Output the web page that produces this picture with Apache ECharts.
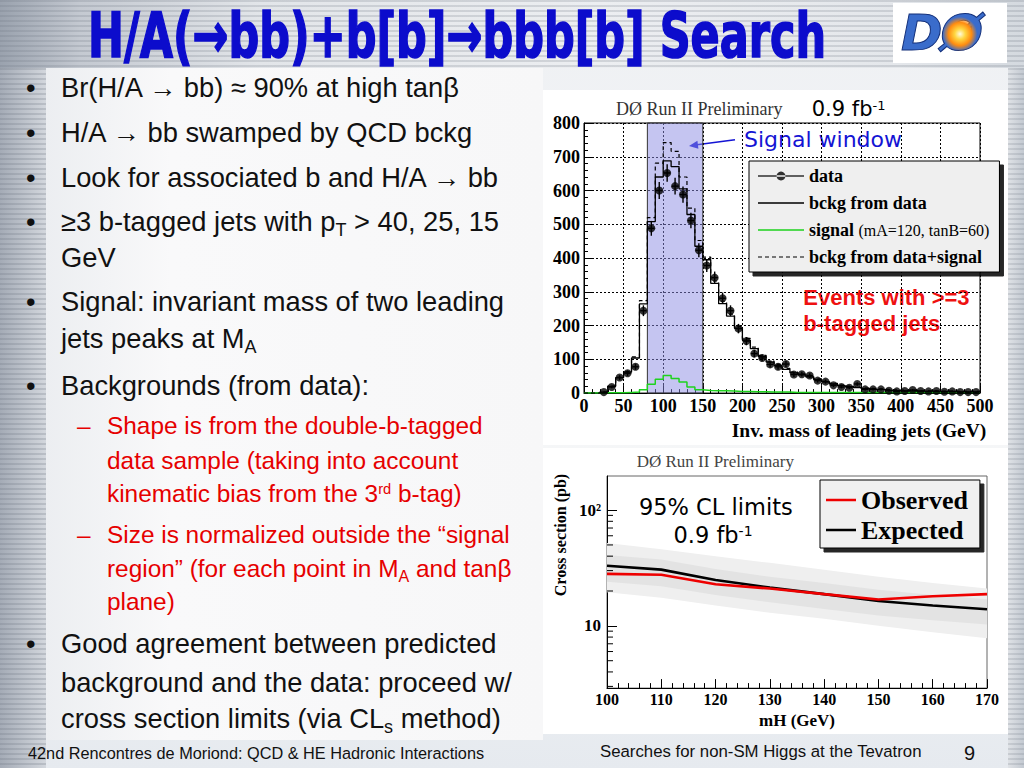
<!DOCTYPE html>
<html><head><meta charset="utf-8">
<script src="https://cdn.jsdelivr.net/npm/echarts@6/dist/echarts.min.js"></script>
<style>
html,body{margin:0;padding:0;}
body{width:1024px;height:768px;overflow:hidden;position:relative;font-family:'Liberation Sans',Arial,sans-serif;color:#111;}
#bg{position:absolute;left:0;top:0;width:1024px;height:768px;background:linear-gradient(180deg,#eef0f3 0,#f6f7f8 55%,#e6eaef 100%);}
#topband{position:absolute;left:0;top:0;width:1024px;height:68px;background:repeating-linear-gradient(180deg,rgba(110,118,130,.22) 0 2px,rgba(255,255,255,0) 2px 5px),linear-gradient(90deg,#9aa2ae 0,#c4c9d1 80px,#e2e5e9 260px,#eceef1 600px,#e4e7eb 900px,#d4d9df 1024px);}
#leftband{position:absolute;left:0;top:68px;width:46px;height:700px;background:repeating-linear-gradient(180deg,rgba(110,118,130,.25) 0 2px,rgba(255,255,255,0) 2px 5px),linear-gradient(90deg,#a4abb6,#d3d7dd);}
#rightband{position:absolute;left:1008px;top:68px;width:16px;height:700px;background:repeating-linear-gradient(180deg,rgba(110,118,130,.2) 0 2px,rgba(255,255,255,0) 2px 5px),linear-gradient(90deg,#dfe2e6,#c3c9d1);}
#panel{position:absolute;left:46px;top:68px;width:497px;height:672px;background:linear-gradient(90deg,#eceef1 0,#f9f9fa 25%,#f7f7f8 100%);}
#title{position:absolute;left:88px;top:4px;font-family:'Liberation Sans Narrow','DejaVu Sans Condensed',sans-serif;font-weight:bold;font-size:63px;line-height:1;color:#0c0ccc;-webkit-text-stroke:1.6px #0c0ccc;white-space:nowrap;transform-origin:0 0;}
#logo{position:absolute;left:893px;top:3px;width:114px;height:60px;background:#fff;overflow:hidden;}
#logo .txt{position:absolute;left:8px;top:2px;font-family:'DejaVu Sans',sans-serif;font-weight:bold;font-style:italic;font-size:50px;line-height:56px;color:#3a6ccb;-webkit-text-stroke:1px #14307a;letter-spacing:-2px;}
#logo .burst{position:absolute;left:50px;top:14px;width:34px;height:34px;border-radius:50%;background:radial-gradient(circle,#fffbe0 0,#ffd640 22%,#ff8c10 48%,rgba(255,120,0,0) 72%);}
.ln{position:absolute;white-space:nowrap;line-height:1;}
.m{font-size:27.3px;left:61px;color:#111;}
.s{font-size:24.4px;left:107px;color:#e60000;}
.b{position:absolute;left:26px;font-size:27.3px;line-height:1;color:#111;}
.d{position:absolute;left:77px;font-size:24.4px;line-height:1;color:#e60000;}
sub{font-size:0.66em;vertical-align:-0.28em;line-height:0;}
sup{font-size:0.6em;vertical-align:0.55em;line-height:0;}
.f{position:absolute;font-size:16.3px;line-height:1;color:#111;white-space:nowrap;}
#c1{position:absolute;left:543px;top:90px;width:465px;height:355px;background:#fff;}
#c2{position:absolute;left:543px;top:448px;width:465px;height:286px;background:#fff;}
</style></head>
<body>
<div id="bg"></div><div id="topband"></div><div id="leftband"></div><div id="rightband"></div><div id="panel"></div>
<div id="title">H/A(→bb)+b[b]→bbb[b] Search</div>
<div id="logo"><div class="txt">DØ</div><div class="burst"></div></div>

<div class="b" style="top:73.6px">•</div><div class="ln m" style="top:73.6px">Br(H/A → bb) ≈ 90% at high tanβ</div>
<div class="b" style="top:118.6px">•</div><div class="ln m" style="top:118.6px">H/A → bb swamped by QCD bckg</div>
<div class="b" style="top:163.6px">•</div><div class="ln m" style="top:163.6px">Look for associated b and H/A → bb</div>
<div class="b" style="top:207.6px">•</div><div class="ln m" style="top:207.6px">≥3 b-tagged jets with p<sub>T</sub> &gt; 40, 25, 15</div>
<div class="ln m" style="top:244.2px">GeV</div>
<div class="b" style="top:287.6px">•</div><div class="ln m" style="top:287.6px">Signal: invariant mass of two leading</div>
<div class="ln m" style="top:325.2px">jets peaks at M<sub>A</sub></div>
<div class="b" style="top:371.9px">•</div><div class="ln m" style="top:371.9px">Backgrounds (from data):</div>
<div class="d" style="top:414.4px">–</div><div class="ln s" style="top:414.4px">Shape is from the double-b-tagged</div>
<div class="ln s" style="top:449.4px">data sample (taking into account</div>
<div class="ln s" style="top:482.1px">kinematic bias from the 3<sup>rd</sup> b-tag)</div>
<div class="d" style="top:522.7px">–</div><div class="ln s" style="top:522.7px">Size is normalized outside the “signal</div>
<div class="ln s" style="top:556.7px">region” (for each point in M<sub>A</sub> and tanβ</div>
<div class="ln s" style="top:590.1px">plane)</div>
<div class="b" style="top:630.2px">•</div><div class="ln m" style="top:630.2px">Good agreement between predicted</div>
<div class="ln m" style="top:668.6px">background and the data: proceed w/</div>
<div class="ln m" style="top:705.2px">cross section limits (via CL<sub>s</sub> method)</div>

<div class="f" style="left:28px;top:744.8px">42nd Rencontres de Moriond: QCD &amp; HE Hadronic Interactions</div>
<div class="f" style="left:600px;top:744.3px;font-size:16.8px">Searches for non-SM Higgs at the Tevatron</div>
<div class="f" style="left:964px;top:743px;font-size:20px">9</div>

<div id="c1"></div>
<div id="c2"></div>

<script>
// ---------- histogram: invariant mass of two leading jets ----------
const massBins = [0,10,20,30,40,50,60,70,80,90,100,110,120,130,140,150,160,170,180,190,200,210,220,230,240,250,260,270,280,290,300,310,320,330,340,350,360,370,380,390,400,410,420,430,440,450,460,470,480,490];
const massMax = 500;
const bkgFromData = [0,0,2,20,46,62,104,264,508,640,688,671,605,529,435,395,325,265,228,192,157,132,108,92,82,70,60,54,48,40,33,27,22,19,16,13,11,10,8,7,6,6,5,5,4,4,4,3,3,3];
const signalMC = [0,0,1,1,1,2,3,10,26,41,52,43,33,18,10,8,7,7,6,5,5,4,4,3,3,3,2,2,2,2,2,2,2,2,2,2,2,2,2,2,2,2,2,2,2,2,2,2,2,2];
const bkgPlusSignal = [0,0,3,21,47,64,107,274,520,681,742,716,640,548,452,403,332,272,234,197,162,136,112,95,85,73,62,56,50,42,35,29,24,21,18,15,13,12,10,9,8,8,7,7,6,6,6,5,5,5];
const dataMass = [25,35,45,55,65,75,85,95,105,115,125,135,145,155,165,175,185,195,205,215,225,235,245,255,265,275,285,295,305,315,325,335,345,355,365,375,385,395,405,415,425,435,445,455,465,475,485,495];
const dataCounts = [3,18,46,59,78,244,488,600,652,613,588,511,423,378,342,281,244,191,154,117,104,85,78,86,55,56,52,37,34,23,18,16,27,11,11,11,7,5,6,9,6,5,6,4,5,3,3,3];
const dataErr = [2,4,7,8,9,16,22,25,26,25,24,23,21,19,18,17,16,14,12,11,10,9,9,9,7,7,7,6,6,5,4,4,5,3,3,3,3,2,2,3,2,2,2,2,2,2,2,2];
const signalWindow = [80,150];

// ---------- cross section limits ----------
const mH = [100,110,120,130,140,150,160,170];
const expectedLimit = [33.1,30.6,24.9,21.4,18.8,16.4,15.0,13.9];
const observedLimit = [28.1,27.6,22.9,21.0,18.8,16.9,18.0,18.8];
const band2Up = [52,46,40,35,30.5,26.5,23.5,21];
const band2Lo = [19.5,17.5,15,13,11.5,10,8.8,7.8];
const band1Up = [41,37.5,31,26.5,23.5,20.5,18.5,17];
const band1Lo = [24,22,18.5,16,14,12.3,11.2,10.3];
const yMinorTicks = [3,4,5,6,7,8,9,20,30,40,50,60,70,80,90];

// fit title width
(function(){
  const t = document.getElementById('title');
  const w = t.getBoundingClientRect().width;
  if (w > 0) t.style.transform = 'scaleX(' + (738 / w) + ')';
})();

const SERIF = "'Liberation Serif','Times New Roman',serif";
const SANS = "'DejaVu Sans',Verdana,sans-serif";

function stepData(arr){
  return massBins.map((x,i)=>[x, arr[i]]).concat([[massMax, arr[arr.length-1]]]);
}
// legend icon paths (corner specks fix the icon box)
function box(w, h){ return 'M0,0h0.01v0.01h-0.01z M'+(w-0.01)+','+(h-0.01)+'h0.01v0.01h-0.01z '; }
function solidIcon(w, h, t){ return 'path://' + box(w,h) + 'M0,'+(h/2-t/2)+'h'+w+'v'+t+'h-'+w+'z'; }
function dashIcon(w, h, t, d, g){
  let p = 'path://' + box(w,h);
  for (let x=0; x<w; x+=d+g) p += 'M'+x+','+(h/2-t/2)+'h'+Math.min(d, w-x)+'v'+t+'h-'+Math.min(d, w-x)+'z ';
  return p;
}
const dataIcon = 'path://' + box(46,10) + 'M0,4.3h46v1.4h-46z M23,0.6a4.4,4.4 0 1,0 0.01,0z';

const c1 = echarts.init(document.getElementById('c1'), null, {renderer:'svg'});
c1.setOption({
  animation:false,
  backgroundColor:'#fff',
  grid:{left:41, top:33, width:396, height:271, show:true, borderColor:'#000', borderWidth:1, backgroundColor:'#fff'},
  xAxis:{
    type:'value', min:0, max:massMax, interval:50,
    axisLine:{show:true, lineStyle:{color:'#000', width:1}},
    axisTick:{show:true, inside:true, length:8, lineStyle:{color:'#000'}},
    minorTick:{show:true, splitNumber:5, length:4, lineStyle:{color:'#000'}},
    splitLine:{show:true, lineStyle:{color:'#000', type:[2,2], width:1}},
    axisLabel:{color:'#000', fontFamily:SERIF, fontWeight:'bold', fontSize:18, margin:4},
    name:'Inv. mass of leading jets (GeV)', nameLocation:'middle', nameGap:26,
    nameTextStyle:{color:'#000', fontFamily:SERIF, fontWeight:'bold', fontSize:19.5, padding:[0,0,0,154]}
  },
  yAxis:{
    type:'value', min:0, max:800, interval:100,
    axisLine:{show:true, lineStyle:{color:'#000', width:1}},
    axisTick:{show:true, inside:true, length:8, lineStyle:{color:'#000'}},
    minorTick:{show:true, splitNumber:5, length:4, lineStyle:{color:'#000'}},
    splitLine:{show:true, lineStyle:{color:'#000', type:[2,2], width:1}},
    axisLabel:{color:'#000', fontFamily:SERIF, fontWeight:'bold', fontSize:18, margin:4}
  },
  legend:{
    orient:'vertical', left:206, top:71,
    itemWidth:46, itemHeight:10, itemGap:9,
    padding:[6,10,6,9],
    backgroundColor:'#efefef', borderColor:'#000', borderWidth:1,
    shadowColor:'rgba(0,0,0,0.85)', shadowBlur:1, shadowOffsetX:4, shadowOffsetY:4,
    selectedMode:false,
    data:[
      {name:'data', icon:dataIcon},
      {name:'bckg from data', icon:solidIcon(46,10,1.3)},
      {name:'signal', icon:solidIcon(46,10,1.5)},
      {name:'bckg from data+signal', icon:dashIcon(46,10,1.2,4,3)}
    ],
    formatter:function(n){ return n==='signal' ? '{b|signal} {s|(mA=120, tanB=60)}' : '{b|'+n+'}'; },
    textStyle:{color:'#000', fontFamily:SERIF, fontWeight:'bold', fontSize:18,
      rich:{b:{color:'#000', fontFamily:SERIF, fontWeight:'bold', fontSize:18, lineHeight:20},
            s:{color:'#000', fontFamily:SERIF, fontWeight:'normal', fontSize:16, lineHeight:20}}}
  },
  series:[
    {
      name:'bckg from data', type:'line', step:'end', symbol:'none', z:3,
      data:stepData(bkgFromData),
      lineStyle:{color:'#000', width:1.3}, itemStyle:{color:'#000'},
      markArea:{silent:true, itemStyle:{color:'rgba(140,140,228,0.5)', borderColor:'#333', borderWidth:1},
        data:[[{xAxis:signalWindow[0]},{xAxis:signalWindow[1]}]]}
    },
    {
      name:'signal', type:'line', step:'end', symbol:'none', z:3,
      data:stepData(signalMC),
      lineStyle:{color:'#1ed21e', width:1.5}, itemStyle:{color:'#1ed21e'}
    },
    {
      name:'bckg from data+signal', type:'line', step:'end', symbol:'none', z:3,
      data:stepData(bkgPlusSignal),
      lineStyle:{color:'#000', width:1.2, type:[4,3]}, itemStyle:{color:'#000'}
    },
    {
      name:'data err', type:'custom', z:4, silent:true,
      data:dataMass.map((x,i)=>[x, dataCounts[i], dataErr[i]]),
      encode:{x:0, y:1},
      renderItem:function(p, api){
        const x = api.value(0), y = api.value(1), e = api.value(2);
        const t = api.coord([x, y+e]), b = api.coord([x, Math.max(0, y-e)]);
        const l = api.coord([x-4, y]), r = api.coord([x+4, y]);
        return {type:'group', children:[
          {type:'line', shape:{x1:t[0], y1:t[1], x2:b[0], y2:b[1]}, style:{stroke:'#000', lineWidth:1.4}},
          {type:'line', shape:{x1:l[0], y1:l[1], x2:r[0], y2:r[1]}, style:{stroke:'#000', lineWidth:1.4}}
        ]};
      }
    },
    {
      name:'data', type:'scatter', z:5, symbol:'circle', symbolSize:8,
      data:dataMass.map((x,i)=>[x, dataCounts[i]]),
      itemStyle:{color:'#000'}
    }
  ],
  graphic:[
    {type:'text', x:73, y:18.5, style:{text:'DØ Run II Preliminary', fontFamily:SERIF, fontSize:18, fill:'#333', textVerticalAlign:'middle'}},
    {type:'text', x:268.7, y:19, style:{text:'0.9 fb{sup|-1}', fontFamily:SANS, fontSize:21, fill:'#000', textVerticalAlign:'middle',
      rich:{sup:{fontFamily:SANS, fontSize:13, fill:'#000', verticalAlign:'top'}}}},
    {type:'text', x:201, y:49.7, style:{text:'Signal window', fontFamily:SANS, fontSize:22, fill:'#1414d4', textVerticalAlign:'middle'}},
    {type:'line', shape:{x1:192, y1:49.7, x2:152, y2:55}, style:{stroke:'#1414d4', lineWidth:1.6}},
    {type:'polygon', shape:{points:[[146,56],[155.4,58.8],[154.4,50.8]]}, style:{fill:'#1414d4'}},
    {type:'text', x:260.3, y:207.3, style:{text:'Events with >=3', fontFamily:"'Liberation Sans',Arial,sans-serif", fontWeight:'bold', fontSize:22, fill:'#ee1111', textVerticalAlign:'middle'}},
    {type:'text', x:260.3, y:233, style:{text:'b-tagged jets', fontFamily:"'Liberation Sans',Arial,sans-serif", fontWeight:'bold', fontSize:22, fill:'#ee1111', textVerticalAlign:'middle'}}
  ]
});

function bandRender(lo, hi, color){
  return function(p, api){
    if (p.dataIndex !== 0) return;
    const pts = [];
    for (let i=0;i<mH.length;i++) pts.push(api.coord([mH[i], hi[i]]));
    for (let i=mH.length-1;i>=0;i--) pts.push(api.coord([mH[i], lo[i]]));
    return {type:'polygon', shape:{points:pts}, style:{fill:color}};
  };
}

const c2 = echarts.init(document.getElementById('c2'), null, {renderer:'svg'});
c2.setOption({
  animation:false,
  backgroundColor:'#fff',
  grid:{left:64, top:28, width:380, height:218, show:true, borderColor:'#666', borderWidth:1, backgroundColor:'#fff'},
  xAxis:{
    type:'value', min:100, max:170, interval:10,
    axisLine:{show:true, lineStyle:{color:'#000', width:1}},
    axisTick:{show:true, inside:true, length:9, lineStyle:{color:'#000'}},
    minorTick:{show:true, splitNumber:5, length:5, lineStyle:{color:'#000'}},
    splitLine:{show:false},
    axisLabel:{color:'#000', fontFamily:SERIF, fontWeight:'bold', fontSize:16, margin:3},
    name:'mH (GeV)', nameLocation:'middle', nameGap:19,
    nameTextStyle:{color:'#000', fontFamily:SERIF, fontWeight:'bold', fontSize:17}
  },
  yAxis:{
    type:'log', logBase:10, min:2.9, max:197,
    axisLine:{show:true, lineStyle:{color:'#000', width:1}},
    axisTick:{show:true, inside:true, length:10, lineStyle:{color:'#000'}},
    minorTick:{show:false},
    splitLine:{show:false},
    axisLabel:{color:'#000', fontFamily:SERIF, fontWeight:'bold', fontSize:17, margin:6, showMinLabel:false, showMaxLabel:false,
      formatter:function(v){ const r = Math.round(v); return r===100 ? '10²' : (r===10 ? '10' : ''); }},
    name:'Cross section (pb)', nameLocation:'middle', nameGap:38, nameRotate:90,
    nameTextStyle:{color:'#000', fontFamily:SERIF, fontWeight:'bold', fontSize:16, padding:[0,0,0,94]}
  },
  legend:{
    orient:'vertical', left:277, top:32,
    itemWidth:30, itemHeight:10, itemGap:4,
    padding:[7,12,5,6],
    backgroundColor:'#f0f0f0', borderColor:'#000', borderWidth:1,
    shadowColor:'rgba(0,0,0,0.85)', shadowBlur:1, shadowOffsetX:4, shadowOffsetY:4,
    selectedMode:false,
    data:[
      {name:'Observed', icon:solidIcon(30,10,2.6)},
      {name:'Expected', icon:solidIcon(30,10,2.6)}
    ],
    textStyle:{color:'#000', fontFamily:SERIF, fontWeight:'bold', fontSize:26, lineHeight:26}
  },
  series:[
    {name:'±2σ', type:'custom', silent:true, z:1, data:mH.map((x,i)=>[x, band2Up[i]]), encode:{x:0,y:1},
     renderItem:bandRender(band2Lo, band2Up, '#efefef')},
    {name:'±1σ', type:'custom', silent:true, z:1, data:mH.map((x,i)=>[x, band1Up[i]]), encode:{x:0,y:1},
     renderItem:bandRender(band1Lo, band1Up, '#e3e3e3')},
    {name:'Expected', type:'line', symbol:'none', z:3, data:mH.map((x,i)=>[x, expectedLimit[i]]),
     lineStyle:{color:'#000', width:2.6}, itemStyle:{color:'#000'}},
    {name:'Observed', type:'line', symbol:'none', z:4, data:mH.map((x,i)=>[x, observedLimit[i]]),
     lineStyle:{color:'#ee0000', width:2.6}, itemStyle:{color:'#ee0000'}},
    {name:'minor ticks', type:'custom', silent:true, z:5, data:yMinorTicks.map(v=>[100, v]), encode:{x:0,y:1},
     renderItem:function(p, api){
       const pt = api.coord([api.value(0), api.value(1)]);
       return {type:'line', shape:{x1:pt[0], y1:pt[1], x2:pt[0]+6, y2:pt[1]}, style:{stroke:'#000', lineWidth:1}};
     }}
  ],
  graphic:[
    {type:'text', x:93.7, y:13, style:{text:'DØ Run II Preliminary', fontFamily:SERIF, fontSize:17, fill:'#444', textVerticalAlign:'middle'}},
    {type:'text', x:172.8, y:58.7, style:{text:'95% CL limits', fontFamily:SANS, fontSize:22.5, fill:'#000', textAlign:'center', textVerticalAlign:'middle'}},
    {type:'text', x:170, y:87, style:{text:'0.9 fb{sup|-1}', fontFamily:SANS, fontSize:22.5, fill:'#000', textAlign:'center', textVerticalAlign:'middle',
      rich:{sup:{fontFamily:SANS, fontSize:14, fill:'#000', verticalAlign:'top'}}}}
  ]
});
</script>
</body></html>
